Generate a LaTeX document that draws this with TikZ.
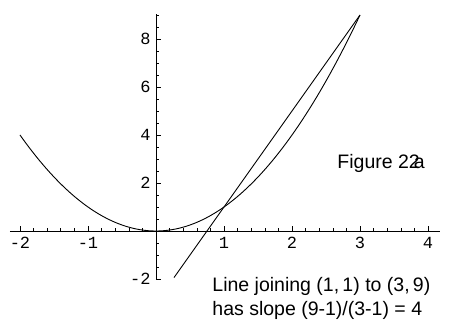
\documentclass[tikz,border=0pt]{standalone}
\usepackage{fontspec}
\setmainfont{Liberation Sans}
\newfontfamily\tickfont{Liberation Mono}
\begin{document}
\begin{tikzpicture}[x=68pt,y=24pt,line width=0.9pt,
  ticklab/.style={font=\tickfont\fontsize{17}{19}\selectfont, inner sep=0pt},
  txt/.style={font=\fontsize{19.5}{24}\selectfont, inner sep=0pt, align=left}]
\useasboundingbox (-156pt,-100pt) rectangle (296pt,231pt);
% axes
\draw (-2.15,0) -- (4.18,0);
\draw (0,-2) -- (0,9.04);
% x ticks
\foreach \k in {-10,...,20} \draw[line width=0.6pt] (\k/5,0) -- ++(0,2.5pt);
\foreach \i in {-2,...,4} \draw[line width=0.6pt] (\i,0) -- ++(0,4.5pt);
% y ticks
\foreach \k in {-4,...,18} \draw[line width=0.6pt] (0,\k/2) -- ++(2.5pt,0);
\foreach \i in {-2,2,4,6,8} \draw[line width=0.6pt] (0,\i) -- ++(4.5pt,0);
% tick labels
\foreach \i in {-2,-1,1,2,3,4} \node[ticklab, anchor=north] (xl\i) at ([yshift=-6pt]\i,0) {\i};
\foreach \i in {2,4,6,8} \node[ticklab, anchor=east] (yl\i) at ([xshift=-5pt]0,\i) {\i};
\node[ticklab, anchor=east] (ylm2) at ([xshift=-5pt]0,-2) {-2};
% curves
\draw[domain=-2:3, samples=120, smooth] plot (\x,{\x*\x});
\draw (0.265,-1.94) -- (3,9);
% texts
\node[txt, anchor=west] (fig) at (181pt,68pt) {Figure 22\kern-0.3em a};
\node[txt, anchor=north west] (cap) at (56pt,-46pt) {Line joining (1,\,1) to (3,\,9)\\has slope (9-1)/(3-1) = 4};
\end{tikzpicture}
\end{document}
